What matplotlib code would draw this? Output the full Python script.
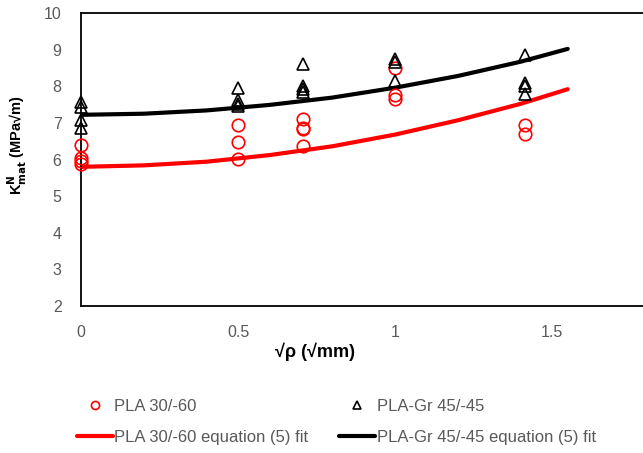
import matplotlib
matplotlib.use("Agg")
import matplotlib.pyplot as plt

# sqrt(rho) positions and measured K values
pla_x = [0, 0, 0, 0, 0.5, 0.5, 0.5, 0.707, 0.707, 0.707, 0.707,
         1, 1, 1, 1.414, 1.414]
pla_k = [6.40, 6.05, 5.95, 5.87, 6.95, 6.47, 6.02, 7.10, 6.87, 6.82, 6.37,
         8.50, 7.75, 7.65, 6.95, 6.70]

gr_x = [0, 0, 0, 0, 0.5, 0.5, 0.5, 0.5, 0.707, 0.707, 0.707, 0.707,
        1, 1, 1, 1.414, 1.414, 1.414, 1.414]
gr_k = [7.58, 7.42, 7.08, 6.85, 7.95, 7.62, 7.52, 7.47, 8.62, 8.00, 7.92, 7.85,
        8.75, 8.65, 8.15, 8.85, 8.10, 8.00, 7.80]

# fitted curves
fit_x = [0, 0.2, 0.4, 0.6, 0.8, 1.0, 1.2, 1.4, 1.55]
pla_fit = [5.80, 5.84, 5.94, 6.12, 6.36, 6.68, 7.07, 7.52, 7.92]
gr_fit = [7.22, 7.25, 7.34, 7.49, 7.69, 7.96, 8.28, 8.67, 9.02]

xticks = [0, 0.5, 1, 1.5]
xticklabels = ["0", "0.5", "1", "1.5"]
yticks = [2, 3, 4, 5, 6, 7, 8, 9, 10]

plt.rcParams['font.family'] = ['Liberation Sans', 'DejaVu Sans']
grey = "#595959"

W, H = 643, 453
fig = plt.figure(figsize=(W / 100, H / 100), dpi=100)
ax = fig.add_axes([81 / W, 1 - 306 / H, 628 / W, 293 / H])

ax.plot(fit_x, pla_fit, color="#ff0000", lw=3, solid_capstyle="round",
        label="PLA 30/-60 equation (5) fit", zorder=2)
ax.plot(fit_x, gr_fit, color="black", lw=3, solid_capstyle="round",
        label="PLA-Gr 45/-45 equation (5) fit", zorder=2)
ax.plot(pla_x, pla_k, ls="none", marker="o", ms=9, mfc="none", mec="#ff0000",
        mew=1.2, label="PLA 30/-60", zorder=3, clip_on=False)
ax.plot(gr_x, gr_k, ls="none", marker="^", ms=8.5, mfc="none", mec="black",
        mew=1.2, label="PLA-Gr 45/-45", zorder=3, clip_on=False)

ax.set_xlim(0, 2)
ax.set_ylim(2, 10)
ax.set_xticks(xticks)
ax.set_xticklabels(xticklabels)
ax.set_yticks(yticks)
ax.tick_params(length=0, labelsize=11.5, labelcolor=grey)
ax.tick_params(axis="x", pad=14)
ax.tick_params(axis="y", pad=14)
for s in ax.spines.values():
    s.set_linewidth(1.3)
    s.set_clip_on(False)

ax.set_xlabel("√ρ (√mm)", fontsize=13, fontweight="bold")
ax.xaxis.set_label_coords((315 - 81) / 628, -(343 - 306) / 293)
ax.set_ylabel(r"K$^{\mathbf{N}}_{\mathbf{mat}}$ (MPa√m)", fontsize=10.5,
              fontweight="bold")
ax.yaxis.set_label_coords(-(81 - 29) / 628, (306 - 145) / 293)

handles, labels = ax.get_legend_handles_labels()
order = [2, 0, 3, 1]
leg = fig.legend([handles[i] for i in order], [labels[i] for i in order],
                 ncol=2, loc="center left", frameon=False,
                 bbox_to_anchor=(77 / W, 1 - 422 / H), borderaxespad=0,
                 borderpad=0, handlelength=2.15, handletextpad=0.1,
                 columnspacing=1.85, labelspacing=0.95, fontsize=12,
                 markerscale=0.65)
for t in leg.get_texts():
    t.set_color(grey)

fig.savefig("out.png", dpi=100)
